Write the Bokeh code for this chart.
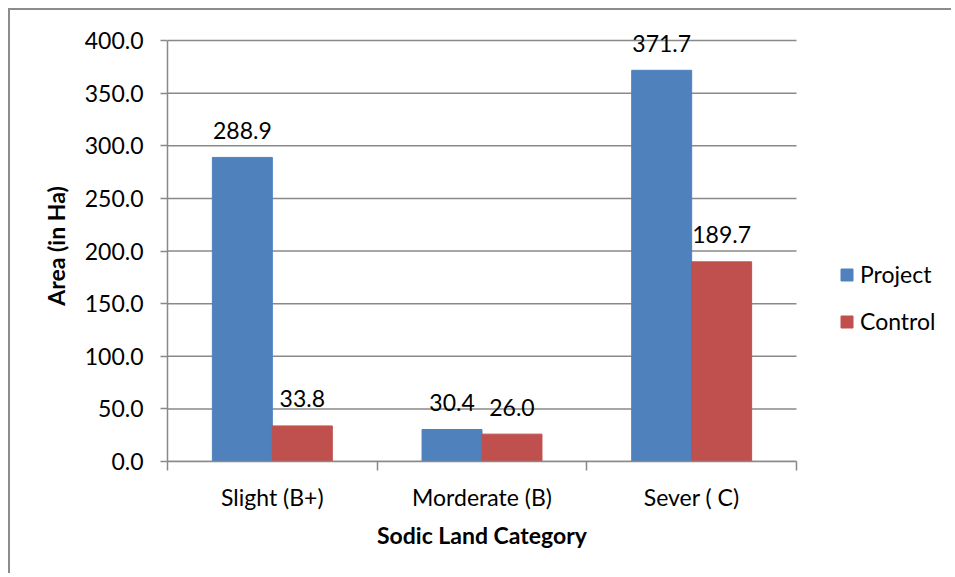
from bokeh.plotting import figure
from bokeh.models import (FixedTicker, NumeralTickFormatter, Legend, LegendItem,
                          Range1d, ColumnDataSource, Title)
from bokeh.core.properties import value
from bokeh.embed import file_html
from bokeh.resources import INLINE

# ---- data ----
categories = ["Slight (B+)", "Morderate (B)", "Sever ( C)"]
project = [288.9, 30.4, 371.7]
control = [33.8, 26.0, 189.7]
series_names = ["Project", "Control"]
y_ticks = [0, 50, 100, 150, 200, 250, 300, 350, 400]
y_max = 400

FONT = "Lato"
GRAY = "#898989"
BLUE = "#4F81BD"
RED = "#C0504D"
FS = "23px"

n = len(categories)
W, H = 943, 565
BL, BR = 157, 5
BT, BB = 20, 114
PLOT_W = 629            # pixel width of the category area
PLOT_H = 421            # pixel height of the value area
FRAME_W = W - BL - BR   # frame also hosts the legend area on the right
FRAME_H = H - BT - BB   # and a little headroom for the top data label
x_end = n * FRAME_W / PLOT_W
y_end = y_max * FRAME_H / PLOT_H

p = figure(width=W, height=H, x_range=Range1d(0, x_end), y_range=Range1d(0, y_end),
           output_backend="svg", toolbar_location=None,
           min_border_left=BL, min_border_right=BR,
           min_border_top=BT, min_border_bottom=BB)
p.styles = {"margin-left": "8px", "margin-top": "8px",
            "border-top": "2px solid #8c8c8c", "border-left": "2px solid #8c8c8c"}
p.outline_line_color = None
p.background_fill_color = "white"
p.border_fill_color = "white"

centers = [i + 0.5 for i in range(n)]
bw = 0.286
src = ColumnDataSource(dict(
    xp=[c - bw / 2 for c in centers],
    xc=[c + bw / 2 for c in centers],
    project=project, control=control,
    lp=[f"{v:.1f}" for v in project],
    lc=[f"{v:.1f}" for v in control],
))

# horizontal gridlines, limited to the category area
p.segment(x0=[0] * len(y_ticks), x1=[n] * len(y_ticks), y0=y_ticks, y1=y_ticks,
          line_color=GRAY, line_width=1.5)

r1 = p.vbar(x="xp", top="project", bottom=0, width=bw, source=src,
            fill_color=BLUE, line_color=BLUE)
r2 = p.vbar(x="xc", top="control", bottom=0, width=bw, source=src,
            fill_color=RED, line_color=RED)

for xcol, ycol, lcol in (("xp", "project", "lp"), ("xc", "control", "lc")):
    p.text(x=xcol, y=ycol, text=lcol, source=src, text_align="center",
           text_baseline="alphabetic", y_offset=-27,
           text_font=value(FONT), text_font_size=FS, text_color="black")

# axes
xa = p.xaxis[0]
xa.bounds = (0, n)
xa.ticker = FixedTicker(ticks=centers, minor_ticks=list(range(n + 1)))
xa.major_label_overrides = {c: lab for c, lab in zip(centers, categories)}
xa.major_tick_line_color = None
xa.minor_tick_line_color = GRAY
xa.minor_tick_out = 9
xa.minor_tick_in = 0
xa.minor_tick_line_width = 1.5
xa.axis_line_color = GRAY
xa.axis_line_width = 1.5
xa.major_label_text_font = FONT
xa.major_label_text_font_size = FS
xa.major_label_text_color = "black"
xa.major_label_standoff = 12

# x-axis title centred under the category area (text is ~210px wide)
xtitle = Title(text="Sodic Land Category", align="left",
               offset=PLOT_W / 2 - 105, standoff=10,
               text_font=FONT, text_font_size=FS, text_font_style="bold",
               text_color="black")
p.add_layout(xtitle, "below")

ya = p.yaxis[0]
ya.bounds = (0, y_max)
ya.ticker = FixedTicker(ticks=y_ticks, minor_ticks=[])
ya.formatter = NumeralTickFormatter(format="0.0")
ya.major_tick_line_color = GRAY
ya.major_tick_out = 7
ya.major_tick_in = 0
ya.major_tick_line_width = 1.5
ya.minor_tick_line_color = None
ya.axis_line_color = GRAY
ya.axis_line_width = 1.5
ya.major_label_text_font = FONT
ya.major_label_text_font_size = FS
ya.major_label_text_color = "black"
ya.major_label_standoff = 17
ya.axis_label = "Area (in Ha)"
ya.axis_label_text_font = FONT
ya.axis_label_text_font_size = FS
ya.axis_label_text_font_style = "bold"
ya.axis_label_text_color = "black"
ya.axis_label_standoff = 12

p.xgrid.grid_line_color = None
p.ygrid.grid_line_color = None

legend = Legend(items=[LegendItem(label=series_names[0], renderers=[r1]),
                       LegendItem(label=series_names[1], renderers=[r2])],
                location=(PLOT_W + 43, 126), orientation="vertical",
                glyph_width=15, glyph_height=15, label_standoff=6,
                spacing=19, padding=0, margin=0,
                border_line_color=None, background_fill_alpha=0,
                label_text_font=FONT, label_text_font_size=FS,
                label_text_color="black")
p.add_layout(legend, "center")

open("out.html", "w").write(file_html(p, INLINE))
